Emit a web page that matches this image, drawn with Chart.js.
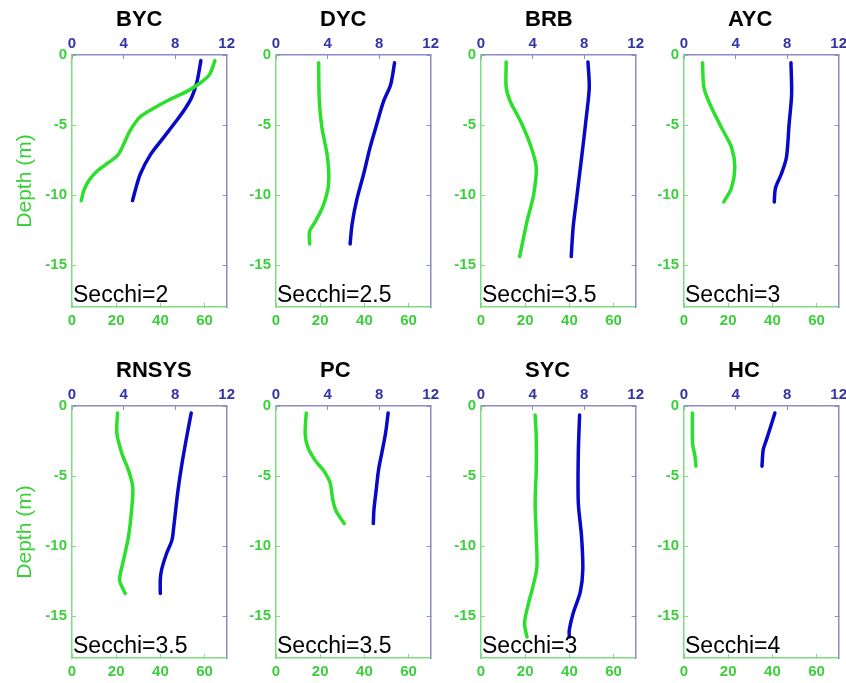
<!DOCTYPE html>
<html>
<head>
<meta charset="utf-8">
<script src="https://cdn.jsdelivr.net/npm/chart.js@4/dist/chart.umd.min.js"></script>
<style>
  html, body { margin: 0; padding: 0; background: #fff; overflow: hidden; }
  #wrap { position: relative; width: 846px; height: 683px; overflow: hidden; }
  #wrap canvas { position: absolute; }
</style>
</head>
<body>
<div id="wrap"></div>
<script>
// Station names and Secchi depths (m)
const sites  = ['BYC', 'DYC', 'BRB', 'AYC', 'RNSYS', 'PC', 'SYC', 'HC'];
const secchi = ['2', '2.5', '3.5', '3', '3.5', '3.5', '3', '4'];

// Axis ticks
const depthTicks = [0, -5, -10, -15];
const greenAxisTicks = [0, 20, 40, 60];   // bottom axis, 0–70
const blueAxisTicks = [0, 4, 8, 12];      // top axis, 0–12

// Profiles: depth (m, negative down) and value
const BYC_greenDepth = [-0.4, -1.4, -2.0, -2.6, -3.2, -3.8, -4.4, -5.4, -6.4, -7.1, -7.6, -8.3, -9.0, -9.7, -10.4];
const BYC_green      = [64.7, 62.2, 58.0, 52.0, 44.0, 37.0, 31.0, 26.3, 23.3, 21.0, 17.3, 11.3, 7.5, 5.3, 4.2];
const BYC_blueDepth  = [-0.4, -1.9, -3.0, -3.8, -4.7, -5.9, -7.1, -8.5, -9.7, -10.4];
const BYC_blue       = [10.0, 9.7, 9.3, 8.8, 8.1, 7.1, 6.1, 5.3, 4.9, 4.7];

const DYC_greenDepth = [-0.55, -3.3, -5.2, -7.3, -9.2, -10.7, -11.9, -12.6, -13.5];
const DYC_green      = [19.3, 19.6, 20.8, 23.3, 23.8, 21.5, 17.8, 15.2, 15.2];
const DYC_blueDepth  = [-0.55, -2.1, -3.3, -5.0, -6.6, -8.5, -10.4, -12.1, -13.5];
const DYC_blue       = [9.2, 8.9, 8.35, 7.8, 7.3, 6.8, 6.25, 5.9, 5.75];

const BRB_greenDepth = [-0.5, -2.3, -3.3, -4.7, -6.4, -8.0, -10.0, -11.9, -14.4];
const BRB_green      = [11.4, 11.4, 13.2, 17.8, 22.3, 25.0, 23.8, 20.8, 17.5];
const BRB_blueDepth  = [-0.5, -2.3, -4.2, -6.6, -8.5, -10.4, -12.3, -14.4];
const BRB_blue       = [8.3, 8.4, 8.2, 7.9, 7.65, 7.4, 7.15, 7.0];

const AYC_greenDepth = [-0.55, -2.3, -3.5, -5.2, -6.6, -8.0, -9.5, -10.5];
const AYC_green      = [8.4, 9.0, 11.7, 17.0, 21.5, 23.0, 21.5, 18.0];
const AYC_blueDepth  = [-0.55, -2.8, -5.0, -7.3, -8.5, -9.5, -10.5];
const AYC_blue       = [8.3, 8.35, 8.15, 7.95, 7.55, 7.1, 7.0];

const RNSYS_greenDepth = [-0.5, -1.95, -3.4, -4.6, -5.8, -7.2, -9.3, -11.0, -12.4, -12.9, -13.4];
const RNSYS_green      = [20.6, 20.3, 22.6, 25.6, 27.5, 27.1, 25.6, 23.3, 21.5, 22.6, 24.1];
const RNSYS_blueDepth  = [-0.5, -2.2, -4.3, -6.2, -8.6, -9.6, -10.5, -11.7, -12.4, -13.4];
const RNSYS_blue       = [9.25, 8.9, 8.5, 8.2, 7.9, 7.75, 7.35, 6.95, 6.85, 6.85];

const PC_greenDepth = [-0.5, -1.95, -2.9, -3.9, -4.6, -5.5, -6.7, -7.5, -8.4];
const PC_green      = [13.7, 13.2, 14.3, 17.8, 21.5, 24.5, 25.7, 27.2, 30.9];
const PC_blueDepth  = [-0.5, -1.95, -3.4, -4.6, -6.2, -7.4, -8.4];
const PC_blue       = [8.7, 8.5, 8.2, 7.95, 7.75, 7.6, 7.55];

const SYC_greenDepth = [-0.65, -2.2, -4.6, -6.9, -9.3, -11.5, -12.9, -14.1, -15.5, -16.5];
const SYC_green      = [24.5, 25.0, 25.0, 24.5, 25.0, 25.3, 23.5, 21.5, 19.7, 20.8];
const SYC_blueDepth  = [-0.65, -3.4, -6.9, -9.3, -11.7, -13.3, -14.8, -16.0, -16.5];
const SYC_blue       = [7.65, 7.55, 7.55, 7.8, 7.9, 7.7, 7.15, 6.85, 6.85];

const HC_greenDepth = [-0.5, -2.7, -3.6, -4.3];
const HC_green      = [3.8, 3.9, 5.0, 5.4];
const HC_blueDepth  = [-0.5, -1.25, -2.4, -3.1, -4.3];
const HC_blue       = [7.05, 6.8, 6.4, 6.15, 6.05];

const profiles = [
  [BYC_greenDepth, BYC_green, BYC_blueDepth, BYC_blue],
  [DYC_greenDepth, DYC_green, DYC_blueDepth, DYC_blue],
  [BRB_greenDepth, BRB_green, BRB_blueDepth, BRB_blue],
  [AYC_greenDepth, AYC_green, AYC_blueDepth, AYC_blue],
  [RNSYS_greenDepth, RNSYS_green, RNSYS_blueDepth, RNSYS_blue],
  [PC_greenDepth, PC_green, PC_blueDepth, PC_blue],
  [SYC_greenDepth, SYC_green, SYC_blueDepth, SYC_blue],
  [HC_greenDepth, HC_green, HC_blueDepth, HC_blue]
];

// Colours
const GREEN_LINE = '#2be02b';
const BLUE_LINE  = '#0808c8';
const GREEN_AXIS = '#80dc80';
const BLUE_AXIS  = '#8c8cc6';
const GREEN_TEXT = '#3ccf3c';
const BLUE_TEXT  = '#3434a8';
const FONT = '"Liberation Sans", Arial, Helvetica, sans-serif';

// Panel grid geometry
const colLeft = [72, 276, 481, 684];
const rowTop  = [55, 406];
const PLOT_W = 155, PLOT_H = 252;
const LEFT_W = 72, TOP_H = 54, BOTTOM_H = 25, RIGHT_W = 12, PAD_R = 2;

// Station name above each panel and Secchi note inside the lower-left corner
const panelText = {
  id: 'panelText',
  afterDraw(chart, args, opts) {
    const { ctx, chartArea } = chart;
    ctx.save();
    ctx.fillStyle = '#000';
    ctx.textAlign = 'left';
    ctx.textBaseline = 'middle';
    ctx.font = 'bold 22px ' + FONT;
    ctx.fillText(opts.title, chartArea.left + 44, 19);
    ctx.textBaseline = 'alphabetic';
    ctx.font = '23px ' + FONT;
    ctx.fillText(opts.note, chartArea.left + 1, chartArea.bottom - 5);
    ctx.restore();
  }
};

const setTicks = (list) => (scale) => { scale.ticks = list.map(v => ({ value: v })); };
const toPoints = (depth, vals) => depth.map((d, i) => ({ x: vals[i], y: d }));
const tickFont = { family: FONT, size: 15, weight: 'bold' };

const wrap = document.getElementById('wrap');

sites.forEach((site, i) => {
  const col = i % 4, row = Math.floor(i / 4);
  const [gD, gV, bD, bV] = profiles[i];
  const canvas = document.createElement('canvas');
  const w = LEFT_W + PLOT_W + RIGHT_W + PAD_R;
  const h = TOP_H + PLOT_H + BOTTOM_H;
  canvas.width = w; canvas.height = h;
  canvas.style.left = (colLeft[col] - LEFT_W) + 'px';
  canvas.style.top = (rowTop[row] - TOP_H) + 'px';
  canvas.style.width = w + 'px'; canvas.style.height = h + 'px';
  wrap.appendChild(canvas);

  new Chart(canvas, {
    type: 'scatter',
    data: {
      datasets: [
        { data: toPoints(gD, gV), xAxisID: 'x', yAxisID: 'y', showLine: true,
          borderColor: GREEN_LINE, borderWidth: 3.5, pointRadius: 0, tension: 0.3,
          borderCapStyle: 'round', borderJoinStyle: 'round' },
        { data: toPoints(bD, bV), xAxisID: 'x2', yAxisID: 'y', showLine: true,
          borderColor: BLUE_LINE, borderWidth: 3.5, pointRadius: 0, tension: 0.3,
          borderCapStyle: 'round', borderJoinStyle: 'round' }
      ]
    },
    options: {
      responsive: false,
      animation: false,
      devicePixelRatio: 1,
      layout: { padding: { left: 0, right: PAD_R, top: 0, bottom: 0 } },
      plugins: {
        legend: { display: false },
        tooltip: { enabled: false },
        panelText: { title: site, note: 'Secchi=' + secchi[i] }
      },
      scales: {
        x: {
          type: 'linear', position: 'bottom', min: 0, max: 70,
          afterBuildTicks: setTicks(greenAxisTicks),
          afterFit: (s) => { s.height = BOTTOM_H; },
          ticks: { color: GREEN_TEXT, font: tickFont, padding: 9, maxRotation: 0 },
          grid: { drawOnChartArea: false, tickLength: -4, color: GREEN_AXIS },
          border: { color: GREEN_AXIS, width: 1.5 }
        },
        x2: {
          type: 'linear', position: 'top', min: 0, max: 12,
          afterBuildTicks: setTicks(blueAxisTicks),
          afterFit: (s) => { s.height = TOP_H; },
          ticks: { color: BLUE_TEXT, font: tickFont, padding: 6, maxRotation: 0 },
          grid: { drawOnChartArea: false, tickLength: -4, color: BLUE_AXIS },
          border: { color: BLUE_AXIS, width: 1.5 }
        },
        y: {
          type: 'linear', position: 'left', min: -18, max: 0,
          afterBuildTicks: setTicks(depthTicks),
          afterFit: (s) => { s.width = LEFT_W; },
          ticks: { color: GREEN_TEXT, font: tickFont, padding: 9 },
          grid: { drawOnChartArea: false, tickLength: -4, color: GREEN_AXIS },
          border: { color: GREEN_AXIS, width: 1.5 },
          title: {
            display: col === 0, text: 'Depth (m)', color: GREEN_TEXT,
            font: { family: FONT, size: 21 }, padding: { top: 13, bottom: 0 }
          }
        },
        y2: {
          type: 'linear', position: 'right', min: -18, max: 0,
          afterBuildTicks: setTicks(depthTicks),
          afterFit: (s) => { s.width = RIGHT_W; },
          ticks: { display: false },
          grid: { drawOnChartArea: false, tickLength: -4, color: BLUE_AXIS },
          border: { color: BLUE_AXIS, width: 1.5 }
        }
      }
    },
    plugins: [panelText]
  });
});
</script>
</body>
</html>
